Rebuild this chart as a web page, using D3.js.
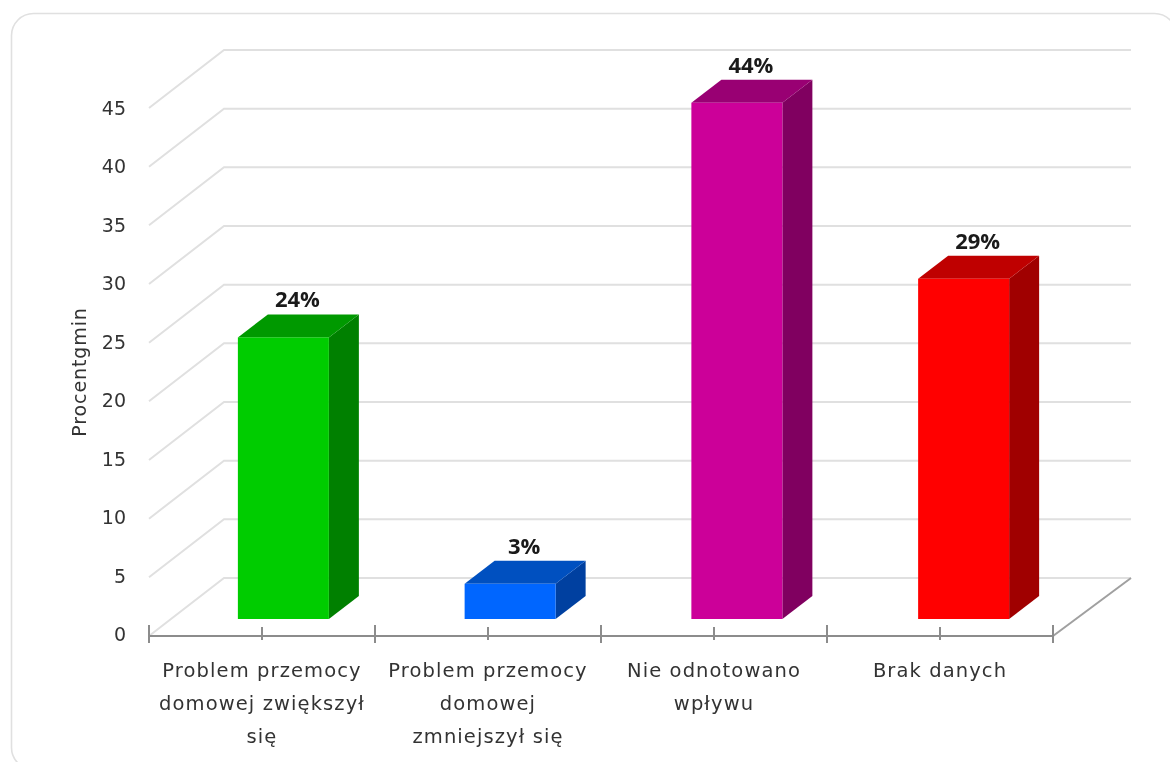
<!DOCTYPE html>
<html><head><meta charset="utf-8">
<script src="https://cdn.jsdelivr.net/npm/d3@7/dist/d3.min.js"></script>
<style>html,body{margin:0;padding:0;background:#fff}svg{display:block;filter:blur(0.45px)}</style>
</head><body><svg id="c" width="1170" height="762"></svg>
<script>
const categories = ["Problem przemocy domowej zwiększył się","Problem przemocy domowej zmniejszył się","Nie odnotowano wpływu","Brak danych"];
const categoryLines = [["Problem przemocy","domowej zwiększył","się"],["Problem przemocy","domowej","zmniejszył się"],["Nie odnotowano","wpływu"],["Brak danych"]];
const values = [24,3,44,29];
const valueLabels = ["24%","3%","44%","29%"];
const frontColors = ["#00cc00","#0066ff","#cc0099","#ff0000"];
const topColors = ["#009900","#0050c0","#990073","#bf0000"];
const sideColors = ["#008000","#0040a0","#800060","#a00000"];
const yTicks = [0,5,10,15,20,25,30,35,40,45];
const yTitle = "Procent gmin";

const font = "'DejaVu Sans',Verdana,sans-serif";
const boldFont = "'Open Sans','Noto Sans',sans-serif";
const svg = d3.select("#c");
const x = d3.scaleBand().domain(categories).range([149,1053]);
const xBar = d3.scaleBand().domain(categories).range([149,1056]);
const y = d3.scaleLinear().domain([0,45]).range([636,108]);
const yLabel = d3.scaleLinear().domain([0,45]).range([641,115]);
const depth = {dx:75, dy:-58};
const barOff = {dx:21, dy:-17};
const barDepth = {dx:30, dy:-23};
const barW = 91;

svg.append("rect").attr("x",11.5).attr("y",13.5).attr("width",1165).attr("height",756).attr("rx",22)
  .attr("fill","#fff").attr("stroke","#e0e0e0").attr("stroke-width",1.6);

// gridlines
const grid = svg.append("g").attr("fill","none").attr("stroke","#e0e0e0").attr("stroke-width",2);
yTicks.forEach(t=>{
  grid.append("path").attr("d",d3.line()([[x.range()[0],y(t)],[x.range()[0]+depth.dx,y(t)+depth.dy],[x.range()[1]+depth.dx+3,y(t)+depth.dy]]));
});
svg.append("path").attr("fill","none").attr("stroke","#a0a0a0").attr("stroke-width",2)
  .attr("d",d3.line()([[x.range()[1],y(0)],[x.range()[1]+depth.dx+3,y(0)+depth.dy]]));

// y labels
svg.append("g").selectAll("text").data(yTicks).join("text")
  .attr("x",126).attr("y",d=>yLabel(d)).attr("text-anchor","end")
  .attr("font-family",font).attr("font-size",19).attr("fill","#333").text(d=>d);
svg.append("text").attr("transform","translate(86,372) rotate(-90)").attr("text-anchor","middle")
  .attr("font-family",font).attr("font-size",19).attr("word-spacing",-7).attr("letter-spacing",0.9).attr("fill","#333").text(yTitle);

// x axis
const ax = svg.append("g").attr("stroke","#8c8c8c").attr("stroke-width",2);
ax.append("line").attr("x1",x.range()[0]).attr("x2",x.range()[1]).attr("y1",y(0)).attr("y2",y(0));
const edges = categories.map(c=>x(c)).concat([x.range()[1]]);
edges.forEach(e=>ax.append("line").attr("x1",e).attr("x2",e).attr("y1",y(0)-11).attr("y2",y(0)+7));
categories.forEach(c=>{const m=x(c)+x.bandwidth()/2; ax.append("line").attr("x1",m).attr("x2",m).attr("y1",y(0)-9).attr("y2",y(0)+4);});

// bars
const pts = a=>a.map(p=>p.join(",")).join(" ");
categories.forEach((c,i)=>{
  const cx = xBar(c)+xBar.bandwidth()/2+barOff.dx;
  const l = cx-barW/2, r = cx+barW/2;
  const b = y(0)+barOff.dy, t = y(values[i])+barOff.dy;
  const g = svg.append("g");
  g.append("polygon").attr("points",pts([[r,t],[r+barDepth.dx,t+barDepth.dy],[r+barDepth.dx,b+barDepth.dy],[r,b]])).attr("fill",sideColors[i]);
  g.append("polygon").attr("points",pts([[l,t],[l+barDepth.dx,t+barDepth.dy],[r+barDepth.dx,t+barDepth.dy],[r,t]])).attr("fill",topColors[i]);
  g.append("rect").attr("x",l).attr("y",t).attr("width",barW).attr("height",b-t).attr("fill",frontColors[i]);
  g.append("text").attr("x",cx+14).attr("y",t+barDepth.dy-7).attr("text-anchor","middle")
    .attr("font-family",boldFont).attr("font-weight","bold").attr("font-size",22).attr("fill","#1a1a1a").text(valueLabels[i]);
});

// category labels
categories.forEach((c,i)=>{
  const m = x(c)+x.bandwidth()/2;
  const txt = svg.append("text").attr("text-anchor","middle").attr("font-family",font).attr("font-size",19.5).attr("letter-spacing",1.1).attr("fill","#333");
  categoryLines[i].forEach((ln,j)=>txt.append("tspan").attr("x",m).attr("y",677+j*33).text(ln));
});
</script></body></html>
